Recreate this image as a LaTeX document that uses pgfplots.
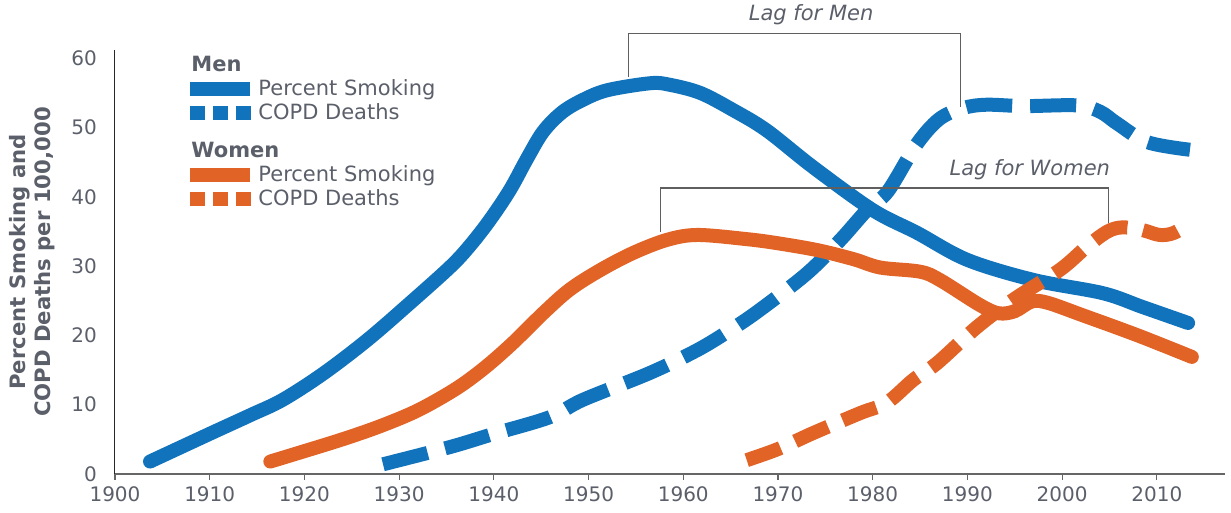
\documentclass[border=0pt]{standalone}
\usepackage{fontspec}
\setmainfont{DejaVu Sans}
\usepackage{pgfplots}
\pgfplotsset{compat=1.18}
\definecolor{cblue}{RGB}{17,115,187}
\definecolor{corange}{RGB}{225,99,38}
\definecolor{tgray}{RGB}{91,95,106}
\definecolor{bgray}{RGB}{95,95,95}
\begin{document}
\begin{tikzpicture}
\path[use as bounding box] (-57.5pt,-19.5pt) rectangle (558pt,237pt);
\begin{axis}[
  scale only axis, width=555pt, height=212pt,
  xmin=1900, xmax=2017.2, ymin=0, ymax=61.2,
  axis x line=bottom, axis y line=left,
  x axis line style={-, draw=black!60, line width=0.6pt},
  y axis line style={-, draw=black!85, line width=0.5pt},
  xtick={1900,1910,...,2010}, ytick={0,10,...,60},
  xtick align=outside, major tick length=3pt,
  xtick style={draw=black!60, line width=0.6pt},
  ytick style={draw=none},
  tick label style={font=\fontsize{10}{12}\selectfont, text=tgray},
  yticklabel style={xshift=-4pt},
  /pgf/number format/assume math mode=true,
  /pgf/number format/set thousands separator={},
  ylabel={Percent Smoking and\\COPD Deaths per 100,000},
  ylabel style={align=center, font=\bfseries\fontsize{10.6}{12.5}\selectfont, text=tgray,
    at={(axis description cs:-0.075,0.5)}, anchor=center},
  clip=false,
  legend style={at={(axis description cs:0.0613,0.993)}, anchor=north west,
    draw=none, fill=none, inner sep=0pt, row sep=1.5pt, column sep=0pt,
    font=\fontsize{10.5}{12}\selectfont, text=tgray, nodes={inner sep=0pt}},
  legend cell align=left,
  every axis plot/.append style={line width=7pt, smooth, tension=0.55},
]
\addlegendimage{empty legend}
\addlegendentry{\makebox[0pt][l]{\hspace*{-34pt}\rule[-3pt]{0pt}{12pt}\textbf{Men}}}

% Men percent smoking
\addplot[cblue, line cap=round,
  legend image code/.code={\draw[cblue, line width=7pt, line cap=butt, solid] (0pt,-0.8pt) -- (30pt,-0.8pt);}]
 coordinates {
(1903.7,1.8) (1910,5.8) (1914.3,8.5) (1917.7,10.7) (1922,14.5) (1926.6,19.3)
(1931,24.5) (1935.4,29.9) (1937.5,33) (1939.6,36.7) (1941.7,41) (1943.5,45.5)
(1945.2,49.4) (1947.2,52.2) (1949.4,54) (1952,55.4) (1956.5,56.4) (1958.5,56.2)
(1961.8,55) (1965.3,52.5) (1968.8,49.6) (1973.7,44.3) (1980,38.1) (1984.7,34.8)
(1990,30.9) (1997,28) (2004.3,26.1) (2008.5,24.1) (2013.3,21.8)
};
\addlegendentry{\rule[-3pt]{0pt}{12pt}Percent Smoking}

% Men COPD deaths
\addplot[cblue, line cap=butt, dash pattern=on 23pt off 9pt,
  legend image code/.code={\draw[cblue, line width=7pt, line cap=butt, dash pattern=on 7.5pt off 4pt] (0pt,-0.8pt) -- (30.5pt,-0.8pt);}]
 coordinates {
(1928.3,1.4) (1935.4,3.9) (1940,5.8) (1945.9,8.2) (1949.4,10.7) (1956.5,14.6)
(1961.5,17.9) (1965,20.8) (1968.1,23.7) (1973.1,29) (1976.6,33.8) (1979.4,38.1)
(1981.6,40.8) (1984.6,47.5) (1987,51.2) (1989.5,52.8) (1992,53.3) (1996,53.1)
(2001.6,53.2) (2004,52.3) (2005.8,50.6) (2009,47.9) (2013.5,46.8)
};
\addlegendentry{\rule[-3pt]{0pt}{12pt}COPD Deaths}

\addlegendimage{empty legend}
\addlegendentry{\makebox[0pt][l]{\hspace*{-34pt}\rule[-3pt]{0pt}{19pt}\textbf{Women}}}

% Women percent smoking
\addplot[corange, line cap=round,
  legend image code/.code={\draw[corange, line width=7pt, line cap=butt, solid] (0pt,-0.8pt) -- (30pt,-0.8pt);}]
 coordinates {
(1916.4,1.8) (1920,3.3) (1924,5.0) (1928,6.9) (1932,9.2) (1936,12.3)
(1939,15.3) (1942,18.9) (1945.2,23.2) (1948,26.6) (1951.2,29.4) (1954.7,31.9)
(1958.3,33.8) (1961.5,34.5) (1966.7,33.9) (1970,33.3) (1974.2,32.3) (1978,31)
(1980.8,29.8) (1985,29.2) (1987.1,28) (1991.3,24.4) (1993.3,23.2) (1995,23.5)
(1996.8,24.9) (1998.5,24.7) (2002.2,22.9) (2008,20) (2013.7,16.9)
};
\addlegendentry{\rule[-3pt]{0pt}{12pt}Percent Smoking}

% Women COPD deaths
\addplot[corange, line cap=butt, dash pattern=on 18pt off 8pt,
  legend image code/.code={\draw[corange, line width=7pt, line cap=butt, dash pattern=on 7.5pt off 4pt] (0pt,-0.8pt) -- (30.5pt,-0.8pt);}]
 coordinates {
(1966.7,2.0) (1970,3.6) (1973.7,5.9) (1978.7,8.8) (1981.5,10.3) (1984.3,13.6)
(1986.8,16) (1991,21.2) (1995,25.3) (1999.8,29.5) (2002.6,32.8) (2004.8,35.0)
(2006.4,35.6) (2008.5,35.2) (2010.3,34.5) (2011.8,34.8) (2013.5,36.2)
};
\addlegendentry{\rule[-3pt]{0pt}{12pt}COPD Deaths}

% Lag brackets
\draw[bgray, line width=0.7pt] (axis cs:1954.2,57.3) -- (axis cs:1954.2,63.6) -- (axis cs:1989.3,63.6) -- (axis cs:1989.3,53.0);
\draw[bgray, line width=0.7pt] (axis cs:1957.6,34.9) -- (axis cs:1957.6,41.3) -- (axis cs:2004.9,41.3) -- (axis cs:2004.9,36.2);
\node[anchor=base, text=tgray, font=\itshape\fontsize{10.5}{12}\selectfont] at (axis cs:1973.5,65.4) {Lag for Men};
\node[anchor=base east, text=tgray, font=\itshape\fontsize{10.5}{12}\selectfont, inner sep=0pt] at (axis cs:2005.1,43.1) {Lag for Women};
\end{axis}
\end{tikzpicture}
\end{document}
